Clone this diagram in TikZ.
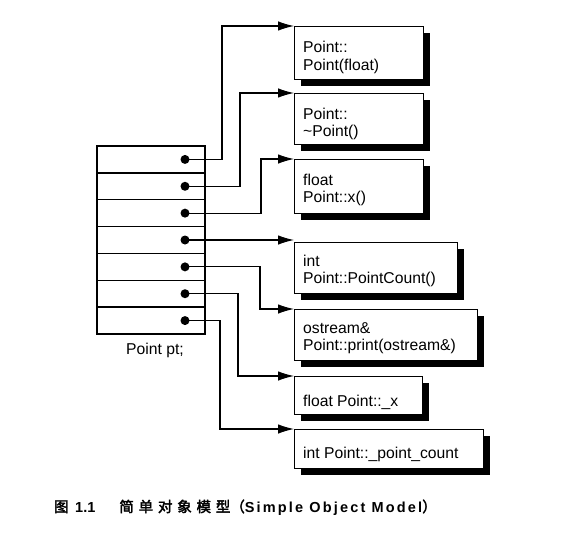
\documentclass[tikz,border=0pt]{standalone}
\usepackage{fontspec}
\setmainfont{Liberation Sans}
\newfontfamily\cjk[AutoFakeBold=2.5]{Noto Sans CJK SC}
\usetikzlibrary{arrows.meta,shadows}
\newcommand{\cc}[1]{\makebox[19.3pt][l]{#1}}
\begin{document}
\begin{tikzpicture}[x=1pt,y=-1pt,
  box/.style={draw, line width=1.2pt, fill=white, anchor=north west, inner sep=0,
    drop shadow={shadow xshift=6pt, shadow yshift=-6pt, opacity=1, fill=black}},
  cell/.style={draw, line width=1.3pt, minimum width=108pt, minimum height=26.86pt, inner sep=0},
  dot/.style={circle, fill=black, minimum size=9pt, inner sep=0},
  conn/.style={line width=1.1pt, -{Latex[length=16pt,width=9.5pt]}},
  txt/.style={anchor=base west, inner sep=0, font=\fontsize{15.7}{17.5}\selectfont},
]
\useasboundingbox (0,0) rectangle (564,532);

% object table
\foreach \i/\y in {1/159.43,2/186.29,3/213.14,4/240.0,5/266.86,6/293.71,7/320.57}{
  \node[cell] (r\i) at (151,\y) {};
  \node[dot] (d\i) at (185,\y) {};
}
\node[txt, anchor=base] (lbl) at (155,354) {Point pt;};

% member boxes
\node[box, minimum width=129pt, minimum height=53pt] (b1) at (294,26) {};
\node[box, minimum width=129pt, minimum height=51pt] (b2) at (294,93) {};
\node[box, minimum width=129pt, minimum height=54pt] (b3) at (294,159) {};
\node[box, minimum width=163pt, minimum height=51pt] (b4) at (294,242) {};
\node[box, minimum width=183pt, minimum height=51pt] (b5) at (294,309) {};
\node[box, minimum width=128pt, minimum height=38pt] (b6) at (294,376) {};
\node[box, minimum width=189pt, minimum height=39pt] (b7) at (294,429) {};

\node[txt] (t1a) at (303,53) {Point::};
\node[txt] (t1b) at (303,70.5) {Point(float)};
\node[txt] (t2a) at (303,119) {Point::};
\node[txt] (t2b) at (303,136.5) {\char"007E Point()};
\node[txt] (t3a) at (303,185) {float};
\node[txt] (t3b) at (303,202.5) {Point::x()};
\node[txt] (t4a) at (303,266) {int};
\node[txt] (t4b) at (303,283.5) {Point::PointCount()};
\node[txt] (t5a) at (303,333) {ostream\&};
\node[txt] (t5b) at (303,350.5) {Point::print(ostream\&)};
\node[txt] (t6a) at (303,406) {float Point::\_x};
\node[txt] (t7a) at (303,458) {int Point::\_point\_count};

% connectors
\draw[conn] (d1.center) -- ++(37,0) |- (b1.north west);
\draw[conn] (d2.center) -- ++(55,0) |- (b2.north west);
\draw[conn] (d3.center) -- ++(76,0) |- (b3.north west);
\draw[conn] (d4.center) -- (d4.center -| b4.west);
\draw[conn] (d5.center) -- ++(75,0) |- (b5.north west);
\draw[conn] (d6.center) -- ++(53,0) |- (b6.north west);
\draw[conn] (d7.center) -- ++(35,0) |- (b7.north west);

% caption
\node[anchor=base west, inner sep=0, font=\fontsize{14.5}{16}\selectfont\bfseries] (cap) at (54,512)
  {{\cjk\makebox[14.5pt][l]{图}}\hspace{6.5pt}1.1\hspace{24pt}{\cjk\cc{简}\cc{单}\cc{对}\cc{象}\cc{模}\makebox[14.5pt][l]{型}（}{\addfontfeature{LetterSpace=15}Simple Object Model}{\cjk ）}};
\end{tikzpicture}
\end{document}
